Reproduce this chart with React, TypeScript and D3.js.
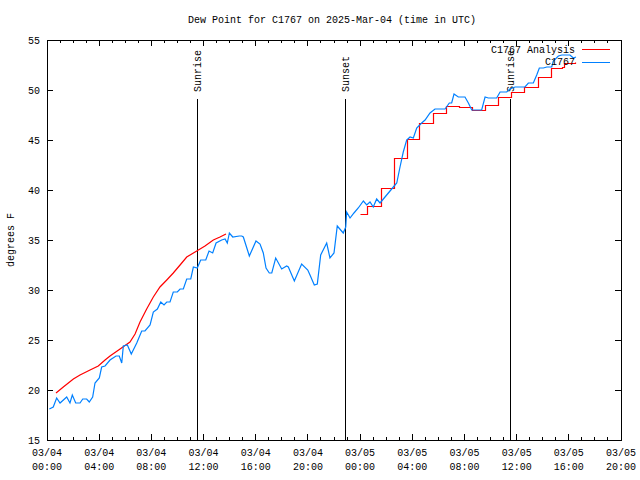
import React from "react";
import * as d3 from "d3";

// ---- data ----
const title = "Dew Point for C1767 on 2025-Mar-04 (time in UTC)";
const yLabel = "degrees F";
const seriesNames = ["C1767 Analysis", "C1767"];
const seriesColors = ["#ff0000", "#0080ff"];

// observations: hours since 2025-03-04 00:00 UTC
const obsHours = [
  0.18, 0.48, 0.74, 1.0, 1.51, 1.76, 1.94, 2.2, 2.53, 2.74, 3.04, 3.24, 3.5, 3.68, 4.01, 4.19, 4.45,
  4.83, 5.29, 5.54, 5.73, 5.85, 6.16, 6.46, 6.88, 7.26, 7.51, 7.9, 8.15, 8.46, 8.72, 8.97, 9.18, 9.43,
  9.68, 9.99, 10.2, 10.45, 10.71, 11.02, 11.22, 11.52, 11.78, 12.17, 12.42, 12.7, 12.96, 13.39, 13.65,
  13.82, 13.98, 14.24, 14.74, 14.93, 15.05, 15.51, 16.02, 16.33, 16.58, 16.79, 17.04, 17.23, 17.53,
  17.99, 18.37, 18.5, 18.96, 19.52, 19.99, 20.16, 20.49, 20.72, 20.98, 21.44, 21.69, 22.0, 22.25,
  22.71, 22.9, 22.97, 23.23, 23.53, 23.86, 24.25, 24.51, 24.76, 25.01, 25.27, 25.53, 25.91, 26.55,
  26.81, 27.06, 27.31, 27.57, 27.83, 28.08, 28.34, 28.72, 28.98, 29.36, 29.74, 30.51, 30.84, 31.02,
  31.2, 31.53, 32.04, 32.3, 32.56, 33.32, 33.58, 33.83, 34.47, 34.73, 35.24, 35.49, 35.88, 36.64,
  36.9, 37.28, 37.54, 37.74, 38.05, 38.31, 38.69, 38.81, 39.2, 39.46, 40.09, 40.35, 40.55,
];
const obsValues = [
  18.1, 18.3, 19.2, 18.7, 19.3, 18.7, 19.5, 18.7, 18.7, 19.1, 19.1, 18.8, 19.3, 20.7, 21.2, 22.3, 22.4,
  23.0, 23.4, 23.4, 22.7, 24.4, 24.5, 23.6, 24.7, 25.9, 25.9, 26.5, 27.8, 28.1, 28.8, 28.5, 28.8, 28.8,
  29.8, 29.8, 30.1, 30.1, 31.1, 31.1, 32.3, 32.2, 33.0, 33.0, 33.9, 33.7, 34.7, 35.0, 35.1,
  34.7, 35.7, 35.3, 35.4, 35.4, 35.3, 33.4, 34.9, 34.6, 33.7, 32.2, 31.7, 31.7, 33.2,
  32.1, 32.4, 32.3, 30.9, 32.6, 32.0, 31.5, 30.5, 30.6, 33.5, 34.7, 33.2, 33.7, 36.4,
  35.7, 36.3, 37.8, 37.2, 37.7, 38.2, 38.9, 38.5, 38.8, 38.3, 39.1, 38.7, 39.3, 40.3,
  40.7, 42.3, 43.8, 45.0, 45.3, 45.2, 46.2, 46.7, 47.0, 47.7, 48.1, 48.1, 48.7, 48.7,
  49.6, 49.3, 49.3, 48.7, 48.0, 48.0, 49.3, 49.2, 49.2, 49.8, 49.8, 50.1, 50.3, 50.3,
  50.7, 50.7, 51.5, 52.2, 52.2, 52.3, 52.3, 52.9, 53.4, 53.5, 53.5, 53.2, 53.3,
];

// analysis, first (smooth) segment
const anaHours1 = [
  0.69, 1.25, 2.02, 2.53, 3.3, 3.93, 4.45, 4.83, 5.6, 6.36, 6.75, 7.13, 7.64, 8.15, 8.66, 9.18, 9.68,
  10.2, 10.71, 11.48, 12.11, 12.75, 13.26, 13.72,
];
const anaValues1 = [
  19.7, 20.3, 21.1, 21.5, 22.0, 22.4, 23.0, 23.4, 24.1, 24.8, 25.6, 26.8, 28.1, 29.3, 30.3, 31.0, 31.7,
  32.5, 33.3, 33.9, 34.4, 35.0, 35.3, 35.6,
];

// analysis, second (stepped) segment
const anaHours2 = [
  24.0, 24.55, 25.6, 26.6, 27.6, 28.55, 29.6, 30.6, 31.6, 32.55, 33.6, 34.6, 35.6, 36.6, 37.6, 38.6,
  39.45, 39.6, 40.5,
];
const anaValues2 = [
  37.6, 38.4, 40.2, 43.2, 45.1, 46.7, 47.7, 48.4, 48.3, 48.0, 48.5, 49.3, 49.8, 50.3, 51.3, 52.2,
  52.3, 52.7, 52.8,
];

const eventNames = ["Sunrise", "Sunset", "Sunrise"];
const eventHours = [11.52, 22.88, 35.5];

const yTicks = [15, 20, 25, 30, 35, 40, 45, 50, 55];

// ---- layout ----
const W = 640;
const H = 480;
const L = 47;
const R = 621;
const T = 40;
const B = 440;
const FONT = "'Liberation Mono', 'DejaVu Sans Mono', monospace";

const base = Date.UTC(2025, 2, 4);
const toDate = (h: number) => new Date(base + h * 3600 * 1000);

export default function App() {
  const x = d3.scaleUtc().domain([toDate(0), toDate(44)]).range([L, R]);
  const y = d3.scaleLinear().domain([15, 55]).range([B, T]);

  const obs = obsHours.map((h, i) => [toDate(h), obsValues[i]] as [Date, number]);
  const ana1 = anaHours1.map((h, i) => [toDate(h), anaValues1[i]] as [Date, number]);
  const ana2 = anaHours2.map((h, i) => [toDate(h), anaValues2[i]] as [Date, number]);

  const line = d3
    .line<[Date, number]>()
    .x((d) => x(d[0]))
    .y((d) => y(d[1]));
  const stepLine = d3
    .line<[Date, number]>()
    .x((d) => Math.round(x(d[0])) + 0.5)
    .y((d) => Math.round(y(d[1])) + 0.5)
    .curve(d3.curveStepAfter);

  const hourTicks = x.ticks(d3.utcHour.every(1)!);
  const majorTicks = x.ticks(d3.utcHour.every(4)!);
  const fmtDate = d3.utcFormat("%m/%d");
  const fmtTime = d3.utcFormat("%H:%M");

  return (
    <svg
      width={W}
      height={H}
      style={{ position: "absolute", left: 0, top: 0, background: "#fff" }}
      fontFamily={FONT}
      fontSize={10}
    >
      <rect x={0} y={0} width={W} height={H} fill="#fff" />
      {/* title */}
      <text x={332} y={23} textAnchor="middle" fill="#000">
        {title}
      </text>
      {/* y label */}
      <text transform={`translate(14,240) rotate(-90)`} textAnchor="middle" fill="#000">
        {yLabel}
      </text>

      <g shapeRendering="crispEdges" stroke="#000" strokeWidth={1}>
        {/* y ticks */}
        {yTicks.map((t) => (
          <g key={"y" + t}>
            <line x1={L} x2={L + 6} y1={y(t)} y2={y(t)} />
            <line x1={R} x2={R - 6} y1={y(t)} y2={y(t)} />
          </g>
        ))}
        {/* x ticks */}
        {hourTicks.map((t, i) => {
          const major = majorTicks.some((m) => +m === +t);
          const len = major ? 6 : 3;
          return (
            <g key={"x" + i}>
              <line x1={x(t)} x2={x(t)} y1={B} y2={B - len} />
              <line x1={x(t)} x2={x(t)} y1={T} y2={T + len} />
            </g>
          );
        })}
      </g>

      {/* y tick labels */}
      {yTicks.map((t) => (
        <text key={"yl" + t} x={40} y={y(t) + 4} textAnchor="end" fill="#000">
          {t}
        </text>
      ))}
      {/* x tick labels */}
      {majorTicks.map((t, i) => (
        <g key={"xl" + i}>
          <text x={x(t)} y={456} textAnchor="middle" fill="#000">
            {fmtDate(t)}
          </text>
          <text x={x(t)} y={470} textAnchor="middle" fill="#000">
            {fmtTime(t)}
          </text>
        </g>
      ))}

      {/* event lines */}
      {eventHours.map((h, i) => {
        const ex = Math.round(x(toDate(h)));
        return (
          <g key={"ev" + i}>
            <line x1={ex} x2={ex} y1={99} y2={B} stroke="#000" shapeRendering="crispEdges" />
            <text
              transform={`translate(${ex + 4},92) rotate(-90)`}
              textAnchor="start"
              fill="#000"
            >
              {eventNames[i]}
            </text>
          </g>
        );
      })}

      {/* data */}
      <path d={line(ana1) || ""} fill="none" stroke={seriesColors[0]} strokeWidth={1.2} />
      <path d={stepLine(ana2) || ""} fill="none" stroke={seriesColors[0]} strokeWidth={1.2} />
      <path d={line(obs) || ""} fill="none" stroke={seriesColors[1]} strokeWidth={1.2} />

      {/* legend */}
      {seriesNames.map((n, i) => (
        <g key={"lg" + i}>
          <text x={575} y={53 + i * 12} textAnchor="end" fill="#000">
            {n}
          </text>
          <line
            x1={582}
            x2={610}
            y1={49 + i * 13}
            y2={49 + i * 13}
            stroke={seriesColors[i]}
            shapeRendering="crispEdges"
          />
        </g>
      ))}

      {/* border */}
      <rect
        x={L}
        y={T}
        width={R - L}
        height={B - T}
        fill="none"
        stroke="#000"
        shapeRendering="crispEdges"
      />
    </svg>
  );
}
